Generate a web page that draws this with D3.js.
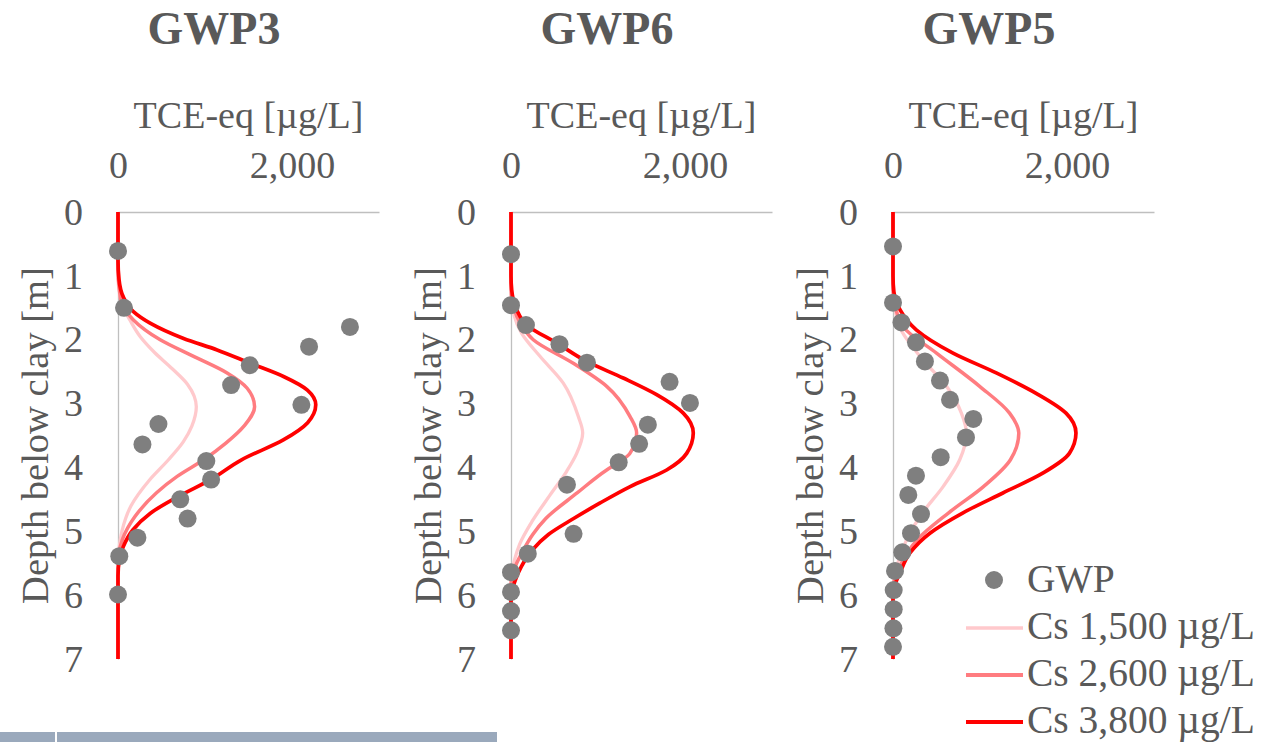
<!DOCTYPE html>
<html>
<head>
<meta charset="utf-8">
<script src="https://cdn.jsdelivr.net/npm/d3@7"></script>
<style>
  body { margin: 0; background: #fff; }
  svg text { font-family: "Liberation Serif", "Times New Roman", serif; fill: #595959; }
</style>
</head>
<body>
<div id="chart"></div>
<script>
// chart values
var panelNames = ["GWP3", "GWP6", "GWP5"];
var depthTicks = [0, 1, 2, 3, 4, 5, 6, 7];
var concTicks = [0, 2000];
var concMax = 3000;
var depthMax = 7;
var seriesNames = ["GWP", "Cs 1,500 \u00b5g/L", "Cs 2,600 \u00b5g/L", "Cs 3,800 \u00b5g/L"];

// measured points [depth m, TCE-eq ug/L]
var gwp3Points = [[0.61, 0], [1.50, 69], [1.80, 2666], [2.11, 2196], [2.40, 1515], [2.71, 1300], [3.02, 2108],
  [3.32, 465], [3.64, 281], [3.90, 1015], [4.19, 1070], [4.50, 715], [4.80, 800], [5.10, 223], [5.39, 15], [5.99, 0]];
var gwp6Points = [[0.66, 0], [1.46, 0], [1.77, 172], [2.07, 557], [2.36, 873], [2.66, 1823], [2.99, 2057],
  [3.33, 1573], [3.63, 1473], [3.92, 1238], [4.27, 643], [5.04, 719], [5.35, 193], [5.64, 0], [5.95, 0], [6.25, 0], [6.55, 0]];
var gwp5Points = [[0.54, 0], [1.42, 0], [1.73, 97], [2.04, 264], [2.34, 367], [2.64, 540], [2.94, 655], [3.24, 923],
  [3.53, 839], [3.84, 548], [4.13, 264], [4.43, 176], [4.73, 322], [5.03, 207], [5.33, 107], [5.62, 23], [5.92, 8],
  [6.22, 8], [6.52, 5], [6.81, 0]];

// model curves [depth m, TCE-eq ug/L]
var gwp3Cs1500 = [[0, 0], [1.0, 0], [1.3, 20], [1.48, 55], [1.7, 140], [1.95, 254], [2.2, 420], [2.45, 620], [2.7, 800],
  [3.05, 900], [3.35, 850], [3.6, 750], [3.88, 580], [4.2, 360], [4.6, 150], [5.0, 45], [5.3, 10], [5.5, 0], [7, 0]];
var gwp3Cs2600 = [[0, 0], [0.9, 0], [1.2, 15], [1.43, 42], [1.69, 177], [2.0, 485], [2.26, 869], [2.52, 1254], [2.76, 1485],
  [3.05, 1570], [3.35, 1450], [3.62, 1240], [3.88, 985], [4.14, 680], [4.4, 440], [4.77, 195], [5.13, 50], [5.4, 5], [5.6, 0], [7, 0]];
var gwp3Cs3800 = [[0, 0], [0.75, 0], [1.06, 12], [1.33, 61], [1.56, 177], [1.74, 369], [1.98, 754], [2.16, 1139], [2.37, 1523],
  [2.58, 1908], [2.79, 2177], [3.02, 2273], [3.3, 2180], [3.57, 1900], [3.88, 1420], [4.19, 1066], [4.45, 700], [4.72, 369],
  [4.98, 170], [5.24, 61], [5.45, 15], [5.7, 0], [7, 0]];

var gwp6Cs1500 = [[0, 0], [1.3, 0], [1.6, 30], [1.9, 123], [2.26, 333], [2.68, 601], [3.2, 773], [3.46, 824], [3.78, 755],
  [4.06, 640], [4.43, 450], [4.85, 240], [5.2, 100], [5.45, 40], [5.7, 5], [5.85, 0], [7, 0]];
var gwp6Cs2600 = [[0, 0], [1.2, 0], [1.49, 30], [1.75, 110], [2.0, 256], [2.37, 716], [2.73, 1100], [3.2, 1367], [3.46, 1444],
  [3.78, 1367], [3.92, 1238], [4.04, 1100], [4.4, 760], [4.8, 400], [5.05, 250], [5.3, 140], [5.6, 35], [5.85, 0], [7, 0]];
var gwp6Cs3800 = [[0, 0], [1.0, 0], [1.22, 8], [1.53, 65], [1.77, 180], [2.05, 525], [2.34, 870], [2.6, 1290], [2.86, 1674],
  [3.15, 1980], [3.46, 2095], [3.78, 2019], [4.04, 1789], [4.3, 1370], [4.56, 1020], [4.8, 720], [5.05, 430], [5.3, 240],
  [5.55, 120], [5.8, 40], [6.0, 5], [6.1, 0], [7, 0]];

var gwp5Cs1500 = [[0, 0], [1.3, 0], [1.55, 25], [1.8, 76], [2.32, 347], [2.73, 615], [3.15, 786], [3.46, 844], [3.88, 767],
  [4.3, 576], [4.71, 340], [5.13, 157], [5.49, 57], [5.75, 10], [5.9, 0], [7, 0]];
var gwp5Cs2600 = [[0, 0], [1.2, 0], [1.5, 30], [1.8, 118], [2.21, 500], [2.73, 996], [3.15, 1340], [3.46, 1446], [3.88, 1350],
  [4.3, 1040], [4.71, 640], [5.13, 280], [5.49, 100], [5.75, 20], [5.9, 0], [7, 0]];
var gwp5Cs3800 = [[0, 0], [1.0, 0], [1.25, 10], [1.53, 80], [1.85, 271], [2.21, 690], [2.52, 1187], [2.84, 1645], [3.15, 1989],
  [3.46, 2103], [3.78, 2027], [4.09, 1721], [4.4, 1263], [4.71, 805], [5.03, 424], [5.34, 195], [5.65, 80], [5.85, 20],
  [6.0, 0], [7, 0]];

var panelPoints = [gwp3Points, gwp6Points, gwp5Points];
var panelCurves = [
  [gwp3Cs1500, gwp3Cs2600, gwp3Cs3800],
  [gwp6Cs1500, gwp6Cs2600, gwp6Cs3800],
  [gwp5Cs1500, gwp5Cs2600, gwp5Cs3800]
];

// layout and styles
var svgWidth = 1264, svgHeight = 742;
var panelLeft = [118, 511, 893];
var plotWidth = 261;
var plotTop = 212, plotBottom = 659;
var curveColors = ["#ffc9cc", "#ff7c80", "#ff0000"];
var curveWidths = [3.3, 3.5, 3.7];
var pointColor = "#7f7f7f";
var axisColor = "#bfbfbf";

var svg = d3.select("#chart")
    .append("svg")
    .attr("width", svgWidth)
    .attr("height", svgHeight);

var xScale = d3.scaleLinear().domain([0, concMax]).range([0, plotWidth]);
var yScale = d3.scaleLinear().domain([0, depthMax]).range([0, plotBottom - plotTop]);

var line = d3.line()
    .x(d => xScale(d[1]))
    .y(d => yScale(d[0]))
    .curve(d3.curveMonotoneY);

panelNames.forEach(function(name, i) {
    var g = svg.append("g")
        .attr("transform", `translate(${panelLeft[i]}, ${plotTop})`);

    // panel title
    g.append("text")
        .attr("x", 96)
        .attr("y", 44 - plotTop)
        .attr("text-anchor", "middle")
        .attr("font-size", "46px")
        .attr("font-weight", "bold")
        .text(name);

    // top axis
    var xAxis = g.append("g")
        .call(d3.axisTop(xScale).tickValues(concTicks).tickFormat(d3.format(",")).tickSize(0).tickPadding(34));
    xAxis.select(".domain").attr("stroke", axisColor).attr("stroke-width", 1.3);
    xAxis.selectAll("text").attr("font-size", "38px").attr("fill", "#595959");

    // left axis
    var yAxis = g.append("g")
        .call(d3.axisLeft(yScale).tickValues(depthTicks).tickFormat(d3.format("d")).tickSize(0).tickPadding(35));
    yAxis.select(".domain").attr("stroke", axisColor).attr("stroke-width", 1.3);
    yAxis.selectAll("text").attr("font-size", "38px").attr("fill", "#595959");

    // axis titles
    g.append("text")
        .attr("x", plotWidth / 2)
        .attr("y", 128 - plotTop)
        .attr("text-anchor", "middle")
        .attr("font-size", "38px")
        .text("TCE-eq [\u00b5g/L]");

    g.append("text")
        .attr("transform", `translate(-70, ${(plotBottom - plotTop) / 2}) rotate(-90)`)
        .attr("text-anchor", "middle")
        .attr("font-size", "38.5px")
        .text("Depth below clay [m]");

    // curves
    panelCurves[i].forEach(function(curve, k) {
        g.append("path")
            .datum(curve)
            .attr("d", line)
            .attr("fill", "none")
            .attr("stroke", curveColors[k])
            .attr("stroke-width", curveWidths[k])
            .attr("stroke-linejoin", "round");
    });

    // points
    g.selectAll("circle")
        .data(panelPoints[i])
        .enter()
        .append("circle")
        .attr("cx", d => xScale(d[1]))
        .attr("cy", d => yScale(d[0]))
        .attr("r", 9)
        .attr("fill", pointColor);
});

// legend
var legend = svg.append("g");
legend.append("circle")
    .attr("cx", 994)
    .attr("cy", 580)
    .attr("r", 9)
    .attr("fill", pointColor);
legend.append("text")
    .attr("x", 1027)
    .attr("y", 592)
    .attr("font-size", "39.5px")
    .text(seriesNames[0]);

[628, 675, 722].forEach(function(ly, k) {
    legend.append("line")
        .attr("x1", 966).attr("x2", 1023)
        .attr("y1", ly).attr("y2", ly)
        .attr("stroke", curveColors[k])
        .attr("stroke-width", curveWidths[k] + 0.3);
    legend.append("text")
        .attr("x", 1027)
        .attr("y", ly + 11)
        .attr("font-size", "39.5px")
        .text(seriesNames[k + 1]);
});

// slide footer bars
svg.append("rect").attr("x", 0).attr("y", 732).attr("width", 55).attr("height", 10).attr("fill", "#9aa9bc");
svg.append("rect").attr("x", 57).attr("y", 732).attr("width", 440).attr("height", 10).attr("fill", "#9aa9bc");
</script>
</body>
</html>
